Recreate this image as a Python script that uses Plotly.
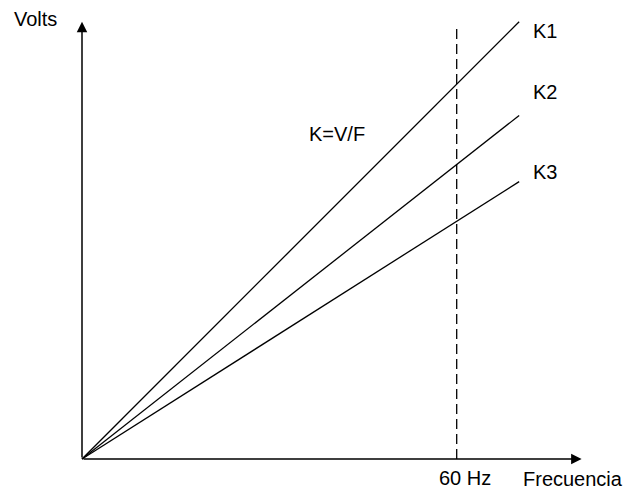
import plotly.graph_objects as go

# V/F characteristic: straight lines V = K * f for three constants
series_names = ["K1", "K2", "K3"]
k_values = [7.6, 5.97, 4.82]          # V/Hz
freq_span = [0, 70]                  # Hz, extent of each line
rated_freq = 60                      # Hz, dashed reference
axis_tip_freq = 80                   # Hz, end of frequency axis arrow
axis_tip_volts = 532                 # V, end of voltage axis arrow
rated_line_top = 526                 # V, top of dashed reference

FONT = dict(family="Arial, Liberation Sans, sans-serif", size=20, color="black")

fig = go.Figure()

for name, k in zip(series_names, k_values):
    fig.add_trace(go.Scatter(
        x=freq_span,
        y=[k * f for f in freq_span],
        mode="lines",
        line=dict(color="black", width=1.3),
        name=name,
        showlegend=False,
        hoverinfo="skip",
    ))

# dashed vertical at rated frequency
fig.add_shape(type="line", xref="x", yref="y",
              x0=rated_freq, x1=rated_freq, y0=0, y1=rated_line_top,
              line=dict(color="black", width=1.3, dash="10px,5px"))

annotations = []
# axes drawn as arrows from the origin
annotations.append(dict(x=axis_tip_freq, y=0, ax=0, ay=0, xref="x", yref="y",
                        axref="x", ayref="y", text="", showarrow=True,
                        arrowhead=2, arrowsize=1.4, arrowwidth=1.5, arrowcolor="black"))
annotations.append(dict(x=0, y=axis_tip_volts, ax=0, ay=0, xref="x", yref="y",
                        axref="x", ayref="y", text="", showarrow=True,
                        arrowhead=2, arrowsize=1.4, arrowwidth=1.5, arrowcolor="black"))

# series labels next to line ends
label_shifts = [-9, 23, 10]
for name, k, dy in zip(series_names, k_values, label_shifts):
    annotations.append(dict(x=freq_span[1] + 1.9, y=k * freq_span[1], yshift=dy,
                            xref="x", yref="y", text=name, showarrow=False,
                            xanchor="left", yanchor="middle", font=FONT))

annotations.append(dict(x=40.8, y=395, xref="x", yref="y", text="K=V/F",
                        showarrow=False, xanchor="center", yanchor="middle", font=FONT))
annotations.append(dict(x=61.25, y=-23, xref="x", yref="y", text="60 Hz",
                        showarrow=False, xanchor="center", yanchor="middle", font=FONT))
annotations.append(dict(x=78.6, y=-24, xref="x", yref="y", text="Frecuencia",
                        showarrow=False, xanchor="center", yanchor="middle",
                        borderpad=0, font=FONT))
annotations.append(dict(x=35 / 626, y=1 - 19 / 488, xref="paper", yref="paper", text="Volts",
                        showarrow=False, xanchor="center", yanchor="middle", font=FONT))

fig.update_layout(
    width=626, height=488, autosize=False,
    margin=dict(l=0, r=0, t=0, b=0),
    paper_bgcolor="white", plot_bgcolor="white",
    xaxis=dict(range=[-13.130, 87.110], visible=False, fixedrange=True),
    yaxis=dict(range=[-35.28, 558.40], visible=False, fixedrange=True),
    annotations=annotations,
    showlegend=False,
)

fig.write_html("out.html", config={"displayModeBar": False})
